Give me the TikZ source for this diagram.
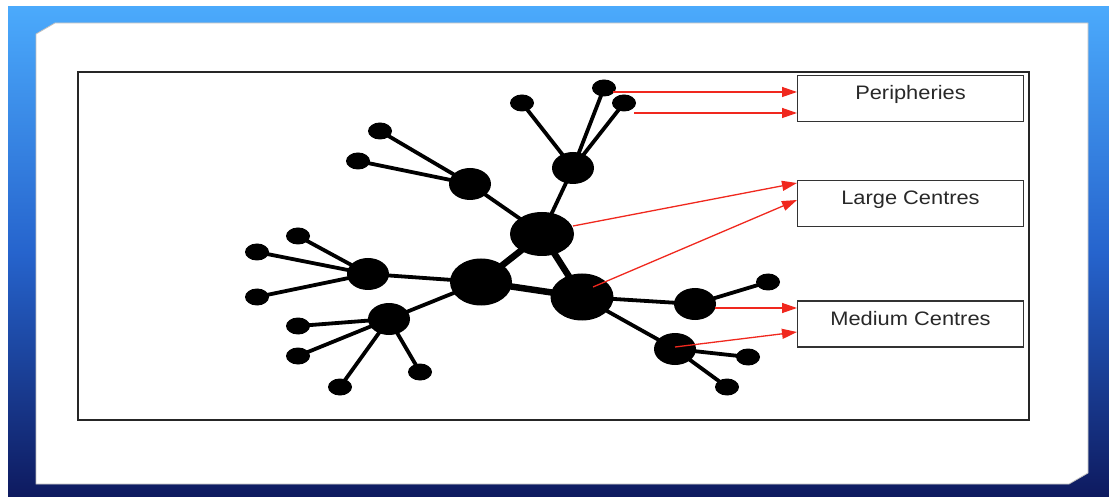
\documentclass[tikz,border=0pt]{standalone}
\usepackage{fontspec}
\setmainfont{Liberation Sans}
\usetikzlibrary{shapes.geometric,arrows.meta}
\pgfdeclarelayer{bg}
\pgfdeclarelayer{edges}
\pgfsetlayers{bg,edges,main}
\definecolor{bluetop}{RGB}{75,170,252}
\definecolor{bluemid}{RGB}{38,100,205}
\definecolor{bluebot}{RGB}{14,26,95}
\definecolor{arrowred}{RGB}{240,40,30}
\definecolor{txtgray}{RGB}{40,40,40}
\tikzset{
  hub/.style={ellipse,fill=black,inner sep=0pt,minimum width=64,minimum height=44},
  mid/.style={ellipse,fill=black,inner sep=0pt,minimum width=42,minimum height=32},
  leaf/.style={ellipse,fill=black,inner sep=0pt,minimum width=24,minimum height=17},
  edge/.style={line width=3.8},
  thickedge/.style={line width=6.5},
  redarrow/.style={arrowred,line width=1.3,-{Triangle[length=15,width=10]}},
  labelbox/.style={draw=black!80,line width=1.5,minimum width=226,minimum height=46,inner sep=0pt,
    font=\fontsize{19.5}{22}\selectfont,text=txtgray},
}
\newcommand{\wide}[1]{\scalebox{1.12}[1]{#1}}
\begin{document}
\begin{tikzpicture}[x=1pt,y=-1pt]
\useasboundingbox (0,0) rectangle (1109,497);
\begin{pgfonlayer}{bg}
  \fill[white] (0,0) rectangle (1109,497);
  \shade[top color=bluetop,bottom color=bluebot,middle color=bluemid] (8,7) rectangle (1109,497);
  \fill[white,draw=black!25,line width=0.8] (36,34) -- (55,23) -- (1088,23) -- (1088,473) -- (1069,484) -- (36,484) -- cycle;
  \draw[black!85,line width=1.6] (78,72) rectangle (1029,420);
\end{pgfonlayer}

% label boxes
\node[labelbox,text depth=12pt] (peri) at (910.5,98.5) {\wide{Peripheries}};
\node[labelbox,text depth=12pt] (large) at (910.5,203.5) {\wide{Large Centres}};
\node[labelbox,text depth=12pt] (medium) at (910.5,324) {\wide{Medium Centres}};

% hubs
\node[hub] (B) at (542,234) {};
\node[hub,minimum width=62,minimum height=47] (D) at (481,282) {};
\node[hub,minimum width=63,minimum height=47] (E) at (582,297) {};
% medium centres
\node[mid] (A) at (573,168) {};
\node[mid] (C) at (470,184) {};
\node[mid] (F) at (368,274) {};
\node[mid] (G) at (389,319) {};
\node[mid] (H) at (695,304) {};
\node[mid] (I) at (675,349) {};
% peripheries
\node[leaf] (a1) at (604,88) {};
\node[leaf] (a2) at (624,103) {};
\node[leaf] (a3) at (522,103) {};
\node[leaf] (c1) at (380,131) {};
\node[leaf] (c2) at (358,161) {};
\node[leaf] (f1) at (298,236) {};
\node[leaf] (f2) at (257,252) {};
\node[leaf] (f3) at (257,297) {};
\node[leaf] (g1) at (298,326) {};
\node[leaf] (g2) at (298,356) {};
\node[leaf] (g3) at (340,387) {};
\node[leaf] (g4) at (420,372) {};
\node[leaf] (h1) at (768,282) {};
\node[leaf] (i1) at (748,357) {};
\node[leaf] (i2) at (727,387) {};

\begin{pgfonlayer}{edges}
  \draw[thickedge] (B.center) -- (D.center);
  \draw[thickedge] (B.center) -- (E.center);
  \draw[thickedge] (D.center) -- (E.center);
  \draw[edge] (A.center) -- (B.center);
  \draw[edge] (C.center) -- (B.center);
  \draw[edge] (D.center) -- (F.center);
  \draw[edge] (D.center) -- (G.center);
  \draw[edge] (E.center) -- (H.center);
  \draw[edge] (E.center) -- (I.center);
  \foreach \p in {a1,a2,a3} \draw[edge] (A.center) -- (\p.center);
  \foreach \p in {c1,c2} \draw[edge] (C.center) -- (\p.center);
  \foreach \p in {f1,f2,f3} \draw[edge] (F.center) -- (\p.center);
  \foreach \p in {g1,g2,g3,g4} \draw[edge] (G.center) -- (\p.center);
  \draw[edge] (H.center) -- (h1.center);
  \foreach \p in {i1,i2} \draw[edge] (I.center) -- (\p.center);
\end{pgfonlayer}

% red arrows
\coordinate (s1) at (613,92);
\coordinate (s2) at (634,113);
\coordinate (s3) at (573,226);
\coordinate (s4) at (593,287);
\coordinate (s5) at (715,308);
\coordinate (s6) at (675,347);
\coordinate (t1) at (797,92);
\coordinate (t2) at (797,113);
\coordinate (t3) at (797,183);
\coordinate (t4) at (797,200);
\coordinate (t5) at (797,308);
\coordinate (t6) at (797,332);
\foreach \i in {1,...,6} \draw[redarrow] (s\i) -- (t\i);
\end{tikzpicture}
\end{document}
